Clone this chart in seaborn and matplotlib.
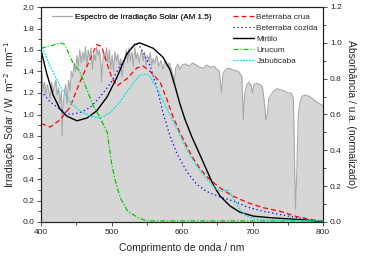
import numpy as np
import pandas as pd
import matplotlib
matplotlib.use("Agg")
import matplotlib.pyplot as plt
import seaborn as sns

# ---- data ----
solar_wl = [400, 401, 403, 405, 407, 409, 411, 413, 415, 417, 419, 421, 423, 425, 427, 429, 430,
            431, 433, 435, 437, 439, 441, 443, 445, 447, 449, 451, 453, 455, 457, 459, 461, 463,
            465, 467, 469, 471, 473, 475, 477, 479, 481, 483, 485, 486, 487, 489, 491, 493, 495,
            497, 499, 501, 503, 505, 507, 509, 511, 513, 515, 517, 519, 521, 523, 525, 527, 529,
            531, 533, 535, 537, 539, 541, 543, 545, 547, 549, 551, 553, 555, 557, 559, 561, 564,
            567, 570, 573, 576, 579, 582, 585, 588, 589, 591, 594, 597, 600, 605, 610, 615, 620,
            625, 630, 635, 640, 645, 650, 653, 656, 658, 662, 666, 670, 675, 680, 685, 687, 689,
            692, 695, 698, 700, 702, 706, 710, 714, 717, 719, 721, 723, 726, 730, 735, 740, 745,
            750, 755, 758, 760, 761, 763, 765, 767, 770, 775, 780, 785, 790, 795, 800]
solar_irr = [1.55, 1.40, 1.22, 1.30, 1.18, 1.28, 1.22, 1.15, 1.30, 1.20, 1.27, 1.32, 1.18, 1.25,
             1.10, 1.22, 0.80, 1.05, 1.20, 1.28, 1.10, 1.32, 1.22, 1.40, 1.35, 1.48, 1.40, 1.55,
             1.45, 1.60, 1.48, 1.58, 1.50, 1.63, 1.45, 1.60, 1.52, 1.62, 1.42, 1.57, 1.50, 1.63,
             1.55, 1.60, 1.45, 1.30, 1.45, 1.58, 1.52, 1.62, 1.48, 1.60, 1.42, 1.55, 1.40, 1.58,
             1.50, 1.56, 1.45, 1.52, 1.35, 1.45, 1.52, 1.60, 1.48, 1.62, 1.50, 1.58, 1.45, 1.62,
             1.52, 1.57, 1.48, 1.55, 1.60, 1.50, 1.58, 1.45, 1.55, 1.50, 1.58, 1.45, 1.52, 1.48,
             1.55, 1.45, 1.50, 1.42, 1.50, 1.44, 1.48, 1.42, 1.35, 1.28, 1.43, 1.47, 1.42, 1.46,
             1.47, 1.45, 1.48, 1.46, 1.44, 1.43, 1.46, 1.44, 1.45, 1.42, 1.40, 1.20, 1.38, 1.42,
             1.43, 1.42, 1.41, 1.40, 1.35, 0.95, 1.20, 1.28, 1.30, 1.27, 1.20, 1.28, 1.29, 1.28,
             1.26, 1.10, 0.95, 1.00, 1.15, 1.18, 1.22, 1.24, 1.23, 1.22, 1.20, 1.20, 1.15, 0.40,
             0.12, 0.50, 1.00, 1.10, 1.17, 1.18, 1.17, 1.15, 1.12, 1.10, 1.08]

crua_wl = [400, 413, 427, 441, 455, 470, 479, 486, 494, 501, 508, 522, 536, 545, 555, 569, 579,
           587, 597, 607, 616, 626, 640, 654, 672, 692, 715, 739, 763, 786, 800]
crua_abs = [0.55, 0.53, 0.57, 0.64, 0.78, 0.91, 0.99, 0.98, 0.88, 0.80, 0.76, 0.80, 0.86, 0.87,
            0.84, 0.78, 0.68, 0.59, 0.50, 0.42, 0.355, 0.295, 0.235, 0.19, 0.145, 0.11, 0.08,
            0.06, 0.03, 0.012, 0.006]

cozida_wl = [400, 413, 427, 441, 455, 470, 484, 498, 512, 526, 534, 540, 547, 555, 565, 573, 583,
             593, 607, 621, 635, 654, 678, 692, 715, 739, 763, 786, 800]
cozida_abs = [0.73, 0.67, 0.63, 0.60, 0.61, 0.64, 0.70, 0.77, 0.87, 0.96, 1.00, 0.98, 0.93, 0.87,
              0.74, 0.61, 0.48, 0.38, 0.28, 0.21, 0.17, 0.14, 0.11, 0.084, 0.06, 0.042, 0.024,
              0.005, 0.0]

mirtilo_wl = [400, 408, 417, 427, 437, 451, 465, 479, 494, 508, 522, 533, 540, 559, 573, 583, 590,
              597, 604, 614, 626, 635, 644, 654, 668, 682, 701, 725, 749, 772, 800]
mirtilo_abs = [0.96, 0.83, 0.71, 0.63, 0.59, 0.565, 0.58, 0.62, 0.70, 0.81, 0.94, 0.99, 1.00,
               0.97, 0.92, 0.85, 0.76, 0.66, 0.575, 0.475, 0.37, 0.29, 0.21, 0.145, 0.09, 0.055,
               0.033, 0.024, 0.018, 0.012, 0.0]

urucum_wl = [400, 410, 420, 427, 434, 445, 455, 465, 474, 484, 494, 500, 506, 513, 523, 538, 550,
             800]
urucum_abs = [0.97, 0.98, 0.99, 1.00, 0.99, 0.89, 0.84, 0.74, 0.65, 0.58, 0.50, 0.33, 0.22, 0.13,
              0.06, 0.024, 0.006, 0.006]

jabuticaba_wl = [400, 413, 427, 441, 455, 470, 484, 498, 512, 526, 540, 550, 555, 565, 579, 593,
                 607, 621, 635, 650, 656, 664, 672, 682, 692, 711, 800]
jabuticaba_abs = [0.99, 0.87, 0.76, 0.67, 0.62, 0.59, 0.58, 0.61, 0.67, 0.75, 0.82, 0.825, 0.81,
                  0.74, 0.63, 0.52, 0.40, 0.31, 0.24, 0.18, 0.17, 0.18, 0.14, 0.07, 0.03, 0.012,
                  0.006]

series_names = ["Beterraba crua", "Beterraba cozida", "Mirtilo", "Urucum", "Jabuticaba"]
series_wl = [crua_wl, cozida_wl, mirtilo_wl, urucum_wl, jabuticaba_wl]
series_abs = [crua_abs, cozida_abs, mirtilo_abs, urucum_abs, jabuticaba_abs]

solar_label = "Espectro de Irradiação Solar (AM 1.5)"
xlabel = "Comprimento de onda / nm"
ylabel_left = "Irradiação Solar / W  m$^{-2}$  nm$^{-1}$"
ylabel_right = "Absorbância / u.a. (normalizado)"

# ---- style ----
sns.set_style("ticks")
plt.rcParams['font.family'] = ['Liberation Sans', 'DejaVu Sans']
plt.rcParams['xtick.direction'] = 'out'
plt.rcParams['ytick.direction'] = 'out'

colors = ["#ff0000", "#0000ff", "#000000", "#00cc00", "#00e5e5"]
dashes = [(4, 2.5), (1, 2.2), (), (4, 1.5, 1, 1.5), (1.5, 1)]
widths = [0.9, 0.9, 1.0, 0.9, 0.9]

fig = plt.figure(figsize=(3.67, 2.61), dpi=100)
ax = fig.add_axes([41/367, 1-222/261, (323-41)/367, (222-7)/261])
ax2 = ax.twinx()

solar_df = pd.DataFrame({"wl": solar_wl, "irr": solar_irr})
ax.fill_between(solar_df["wl"], 0, solar_df["irr"], color="#d6d6d6", lw=0, zorder=1)
sns.lineplot(data=solar_df, x="wl", y="irr", ax=ax, color="#a8a8a8", lw=0.8,
             label=solar_label, zorder=2)

for name, wl, ab, c, d, w in zip(series_names, series_wl, series_abs, colors, dashes, widths):
    df = pd.DataFrame({"wl": wl, "abs": ab})
    sns.lineplot(data=df, x="wl", y="abs", ax=ax2, color=c, lw=w, label=name)
    ln = ax2.get_lines()[-1]
    if d:
        ln.set_dashes(d)

ax.set_xlim(400, 800)
ax.set_ylim(0, 2.0)
ax2.set_ylim(0, 1.2)
ax.set_xticks([400, 500, 600, 700, 800])
ax.set_xticks([450, 550, 650, 750], minor=True)
ax.set_yticks(np.arange(0, 2.01, 0.2))
ax.set_yticks(np.arange(0.1, 2.0, 0.2), minor=True)
ax2.set_yticks(np.arange(0, 1.21, 0.2))
ax2.set_yticks(np.arange(0.1, 1.2, 0.2), minor=True)
ax.yaxis.set_major_formatter(matplotlib.ticker.FormatStrFormatter('%.1f'))
ax2.yaxis.set_major_formatter(matplotlib.ticker.FormatStrFormatter('%.1f'))

for a in (ax, ax2):
    a.tick_params(which='major', length=3, width=0.6, labelsize=6, pad=2, color='#333333')
    a.tick_params(which='minor', length=2, width=0.6, color='#333333')
    for s in a.spines.values():
        s.set_linewidth(0.8)
        s.set_color('#222222')

ax.set_xlabel(xlabel, fontsize=7.5, labelpad=5)
ax.set_ylabel(ylabel_left, fontsize=7.4, labelpad=3)
ax2.set_ylabel(ylabel_right, fontsize=7.4, rotation=-90, labelpad=10)

leg1 = ax.legend(loc='upper left', bbox_to_anchor=(0.02, 0.995), frameon=False, fontsize=5.9,
                 handlelength=2.5, handletextpad=0.3, borderaxespad=0.2)
ax.add_artist(leg1)
leg2 = ax2.legend(loc='upper right', bbox_to_anchor=(1.0, 0.995), frameon=False, fontsize=5.9,
                  handlelength=2.6, handletextpad=0.3, labelspacing=0.4, borderaxespad=0.2)

ax.set_zorder(1)
ax2.set_zorder(2)
ax.patch.set_visible(True)
ax.patch.set_facecolor('white')
ax2.patch.set_visible(False)

fig.savefig("out.png", dpi=100)
